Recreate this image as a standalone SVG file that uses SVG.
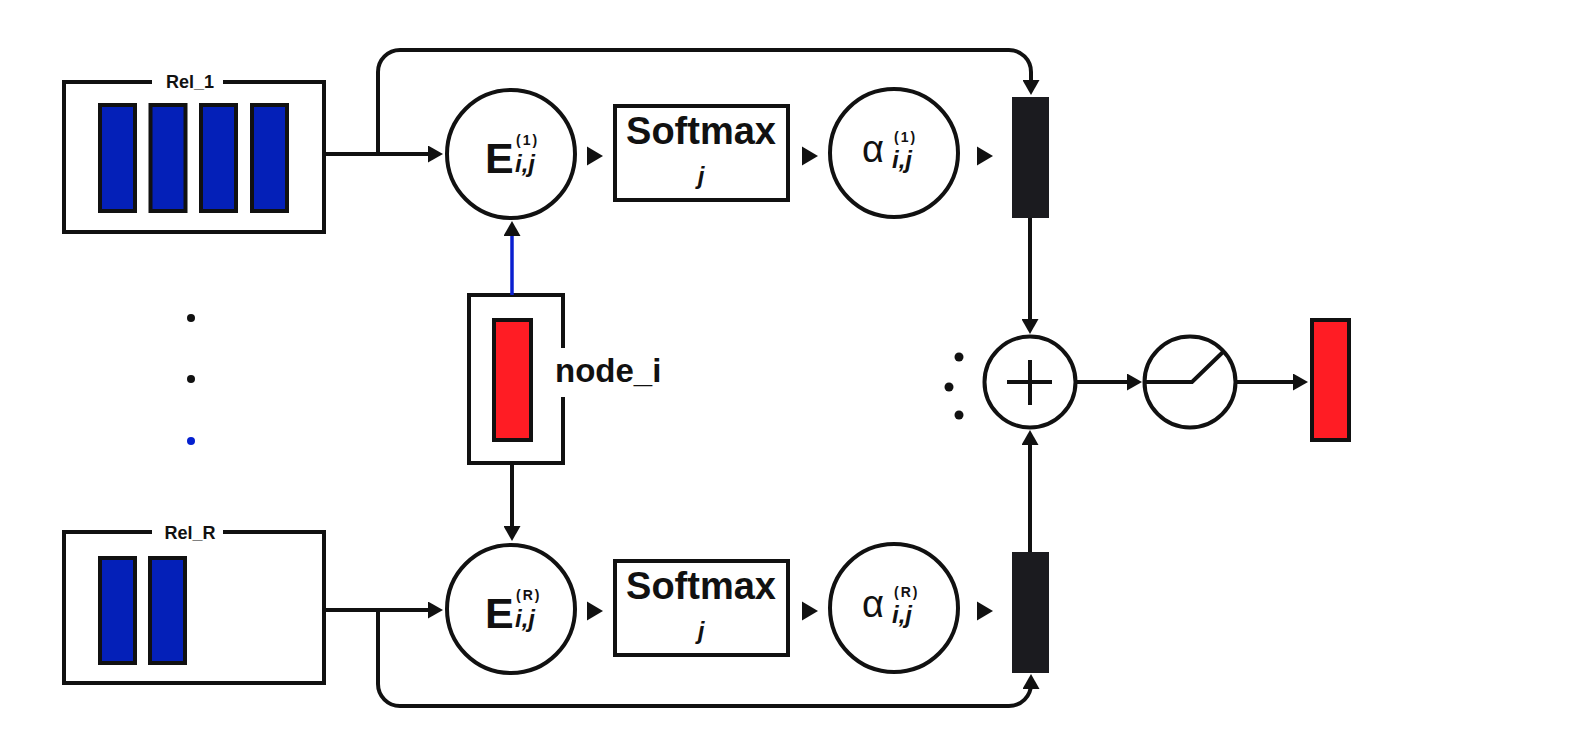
<svg xmlns="http://www.w3.org/2000/svg" width="1586" height="755" viewBox="0 0 1586 755">
<style>
.ln{fill:none;stroke:#111;stroke-width:4;stroke-linejoin:miter}
.bx{fill:#fff;stroke:#111;stroke-width:4}
.blue{fill:#0420b8;stroke:#111;stroke-width:4}
.red{fill:#ff1c24;stroke:#111;stroke-width:4}
.bar{fill:#1b1b1f}
.t{font-family:"Liberation Sans",Arial,sans-serif;fill:#111}
.b{font-weight:700}
.it{font-style:italic;font-weight:700}
.tri{fill:#111}
</style>
<defs>
<marker id="ah" markerUnits="userSpaceOnUse" viewBox="0 0 15 17" refX="5" refY="8.5" markerWidth="15" markerHeight="17" orient="auto">
<path d="M0,0 L15,8.5 L0,17 z" fill="#111"/>
</marker>
<path id="tri" d="M0,-9.5 L16,0 L0,9.5 z"/>
</defs>
<rect width="1586" height="755" fill="#fff"/>

<g id="rel1">
<path class="ln" d="M152,82 H64 V232 H324 V82 H223"/>
<text class="t b" x="190" y="88" font-size="18" text-anchor="middle">Rel_1</text>
<rect class="blue" x="100" y="105" width="35" height="106"/>
<rect class="blue" x="150.5" y="105" width="35" height="106"/>
<rect class="blue" x="201" y="105" width="35" height="106"/>
<rect class="blue" x="252" y="105" width="35" height="106"/>
</g>

<g id="relR">
<path class="ln" d="M152,532 H64 V683 H324 V532 H223"/>
<text class="t b" x="190" y="539" font-size="18" text-anchor="middle">Rel_R</text>
<rect class="blue" x="100" y="558" width="35" height="105"/>
<rect class="blue" x="150" y="558" width="35" height="105"/>
</g>

<g id="dots-left">
<circle cx="191" cy="318" r="4" fill="#111"/>
<circle cx="191" cy="379" r="4" fill="#111"/>
<circle cx="191" cy="441" r="4" fill="#0420d0"/>
</g>

<g id="node_i">
<path class="ln" d="M563,348 V295 H469 V463 H563 V397"/>
<rect class="red" x="494" y="320" width="37" height="120"/>
<text class="t b" x="555" y="382" font-size="33">node_i</text>
</g>

<g id="E1">
<circle class="bx" cx="511" cy="154" r="64"/>
<text class="t b" x="485" y="173" font-size="43">E</text>
<text class="t it" x="515" y="172" font-size="24">i,j</text>
<text class="t b" x="516" y="145" font-size="14" letter-spacing="2">(1)</text>
</g>
<g id="softmax1">
<rect class="bx" x="615" y="106" width="173" height="94"/>
<text class="t b" x="701" y="144" font-size="38" text-anchor="middle">Softmax</text>
<text class="t it" x="701" y="184" font-size="24" text-anchor="middle">j</text>
</g>
<g id="alpha1">
<circle class="bx" cx="894" cy="153" r="64"/>
<text class="t" x="862" y="162" font-size="38">α</text>
<text class="t it" x="892" y="168" font-size="24">i,j</text>
<text class="t b" x="894" y="142" font-size="14" letter-spacing="2">(1)</text>
</g>
<g id="bar1"><rect class="bar" x="1012" y="97" width="37" height="121"/></g>

<g id="ER">
<circle class="bx" cx="511" cy="609" r="64"/>
<text class="t b" x="485" y="628" font-size="43">E</text>
<text class="t it" x="515" y="627" font-size="24">i,j</text>
<text class="t b" x="516" y="600" font-size="14" letter-spacing="2">(R)</text>
</g>
<g id="softmaxR">
<rect class="bx" x="615" y="561" width="173" height="94"/>
<text class="t b" x="701" y="599" font-size="38" text-anchor="middle">Softmax</text>
<text class="t it" x="701" y="639" font-size="24" text-anchor="middle">j</text>
</g>
<g id="alphaR">
<circle class="bx" cx="894" cy="608" r="64"/>
<text class="t" x="862" y="617" font-size="38">α</text>
<text class="t it" x="892" y="623" font-size="24">i,j</text>
<text class="t b" x="894" y="597" font-size="14" letter-spacing="2">(R)</text>
</g>
<g id="barR"><rect class="bar" x="1012" y="552" width="37" height="121"/></g>

<g id="plus">
<circle class="bx" cx="1030" cy="382" r="45.5"/>
<path class="ln" d="M1007,382 H1052 M1030,360 V405"/>
</g>
<g id="dots-right">
<circle cx="959" cy="357" r="4.5" fill="#111"/>
<circle cx="949" cy="387" r="4.5" fill="#111"/>
<circle cx="959" cy="415" r="4.5" fill="#111"/>
</g>
<g id="relu">
<circle class="bx" cx="1190" cy="382" r="45.5"/>
<path class="ln" d="M1144,382 H1192 L1223,352"/>
</g>
<g id="out"><rect class="red" x="1312" y="320" width="37" height="120"/></g>

<g id="connectors">
<path class="ln" d="M324,154 H433" marker-end="url(#ah)"/>
<path class="ln" d="M378,154 V72 A22,22 0 0 1 400,50 H1009 A22,22 0 0 1 1031,72 V85" marker-end="url(#ah)"/>
<path class="ln" d="M324,610 H433" marker-end="url(#ah)"/>
<path class="ln" d="M378,610 V684 A22,22 0 0 0 400,706 H1009 A22,22 0 0 0 1031,684" marker-end="url(#ah)"/>
<path d="M512,295 V231" fill="none" stroke="#0a1fd0" stroke-width="3.5" marker-end="url(#ah)"/>
<path class="ln" d="M512,463 V531" marker-end="url(#ah)"/>
<path class="ln" d="M1030,218 V324" marker-end="url(#ah)"/>
<path class="ln" d="M1030,552 V440" marker-end="url(#ah)"/>
<path class="ln" d="M1077,382 H1132" marker-end="url(#ah)"/>
<path class="ln" d="M1237,382 H1298" marker-end="url(#ah)"/>
<use href="#tri" class="tri" x="587" y="156"/>
<use href="#tri" class="tri" x="802" y="156"/>
<use href="#tri" class="tri" x="977" y="156"/>
<use href="#tri" class="tri" x="587" y="611"/>
<use href="#tri" class="tri" x="802" y="611"/>
<use href="#tri" class="tri" x="977" y="611"/>
</g>
</svg>
